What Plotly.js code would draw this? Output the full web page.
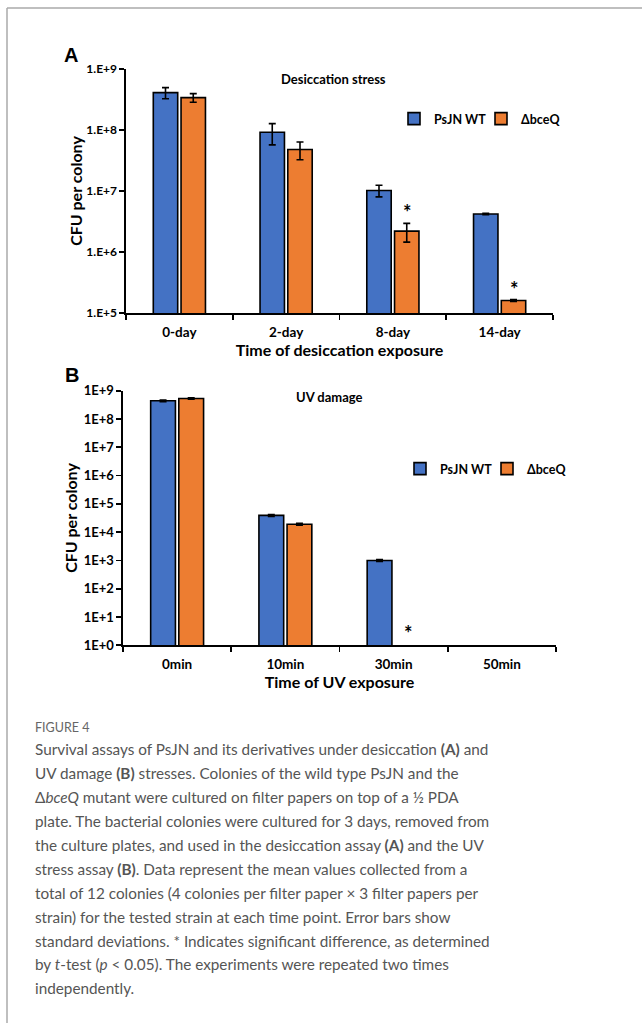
<!DOCTYPE html>
<html>
<head>
<meta charset="utf-8">
<script src="https://cdn.plot.ly/plotly-3.0.1.min.js"></script>
<style>html,body{margin:0;padding:0;background:#fff;}#chart{width:642px;height:1023px;}</style>
</head>
<body>
<div id="chart"></div>
<script>
// ---- Data ----
const seriesNames = ['PsJN WT', 'ΔbceQ'];

// Panel A: desiccation stress
const catsA = ['0-day', '2-day', '8-day', '14-day'];
const wtA = [4.1e8, 9.2e7, 1.02e7, 4.2e6];
const wtAErr = [0.85e8, 3.5e7, 2.2e6, 1.0e5];
const dA = [3.4e8, 4.8e7, 2.2e6, 1.6e5];
const dAErr = [0.55e8, 1.55e7, 7.5e5, 6e3];
const sigA = [false, false, true, true];
const yTicksA = [1e5, 1e6, 1e7, 1e8, 1e9];
const yTickTextA = ['1.E+5', '1.E+6', '1.E+7', '1.E+8', '1.E+9'];

// Panel B: UV damage
const catsB = ['0min', '10min', '30min', '50min'];
const wtB = [4.4e8, 3.9e4, 1.0e3, null];
const wtBErr = [3e7, 3e3, 80, 0];
const dB = [5.3e8, 1.9e4, null, null];
const dBErr = [3e7, 1.5e3, 0, 0];
const sigB = [false, false, true, false];
const yTicksB = [1, 10, 100, 1e3, 1e4, 1e5, 1e6, 1e7, 1e8, 1e9];
const yTickTextB = ['1E+0', '1E+1', '1E+2', '1E+3', '1E+4', '1E+5', '1E+6', '1E+7', '1E+8', '1E+9'];

const captionHead = 'FIGURE 4';
const captionLines = [
  'Survival assays of PsJN and its derivatives under desiccation <b>(A)</b> and',
  'UV damage <b>(B)</b> stresses. Colonies of the wild type PsJN and the',
  'Δ<i>bceQ</i> mutant were cultured on filter papers on top of a ½ PDA',
  'plate. The bacterial colonies were cultured for 3 days, removed from',
  'the culture plates, and used in the desiccation assay <b>(A)</b> and the UV',
  'stress assay <b>(B)</b>. Data represent the mean values collected from a',
  'total of 12 colonies (4 colonies per filter paper × 3 filter papers per',
  'strain) for the tested strain at each time point. Error bars show',
  'standard deviations. * Indicates significant difference, as determined',
  'by <i>t</i>-test (<i>p</i> &lt; 0.05). The experiments were repeated two times',
  'independently.'
];

// ---- Styling ----
const W = 642, H = 1023;
const px = v => v / W;
const py = v => 1 - v / H;
const FONT = 'Lato, Carlito, Calibri, sans-serif';
const BLUE = '#4472C4', ORANGE = '#ED7D31';
const barLine = {color: '#000', width: 1.6};

function bar(x, y, err, name, color, xa, ya, leg) {
  return {
    type: 'bar', x: x, y: y, name: name,
    marker: {color: color, line: barLine},
    error_y: {type: 'data', array: err, visible: true, color: '#000', thickness: 1.6, width: 3.5},
    xaxis: xa, yaxis: ya, legend: leg, showlegend: true
  };
}

const traces = [
  bar(catsA, wtA, wtAErr, seriesNames[0], BLUE, 'x', 'y', 'legend'),
  bar(catsA, dA, dAErr, seriesNames[1], ORANGE, 'x', 'y', 'legend'),
  bar(catsB, wtB, wtBErr, seriesNames[0], BLUE, 'x2', 'y2', 'legend2'),
  bar(catsB, dB, dBErr, seriesNames[1], ORANGE, 'x2', 'y2', 'legend2')
];

const xTickFont = {family: FONT, size: 13.5, color: '#000', weight: 'bold'};
const titleFont = {family: FONT, size: 16, color: '#000', weight: 'bold'};

function xAxis(domain, anchor, title, tstand) {
  return {
    domain: domain, anchor: anchor, type: 'category',
    showline: true, linecolor: '#000', linewidth: 1.6,
    ticks: 'outside', tickson: 'boundaries', ticklen: 5, tickwidth: 1.6, tickcolor: '#000',
    ticklabelstandoff: 6,
    tickfont: xTickFont, showgrid: false, zeroline: false, fixedrange: true,
    title: {text: title, font: titleFont, standoff: tstand}
  };
}
function yAxis(domain, anchor, range, tv, tt, tsize, tstand) {
  return {
    domain: domain, anchor: anchor, type: 'log', range: range,
    tickvals: tv, ticktext: tt,
    showline: true, linecolor: '#000', linewidth: 1.6,
    ticks: 'outside', ticklen: 5, tickwidth: 1.6, tickcolor: '#000',
    tickfont: {family: FONT, size: tsize, color: '#000', weight: 'bold'},
    showgrid: false, zeroline: false, fixedrange: true,
    title: {text: 'CFU per colony', font: {family: FONT, size: 16, color: '#000', weight: 'bold'}, standoff: tstand}
  };
}

const annotations = [];
function addText(x, y, text, font, xanchor) {
  annotations.push({xref: 'paper', yref: 'paper', x: px(x), y: py(y), text: text, showarrow: false,
    xanchor: xanchor || 'center', yanchor: 'middle', font: font});
}
addText(71, 55, 'A', {family: 'Liberation Sans, Arial, sans-serif', size: 20, color: '#000', weight: 'bold'});
addText(72, 375, 'B', {family: 'Liberation Sans, Arial, sans-serif', size: 20, color: '#000', weight: 'bold'});
addText(333, 79, 'Desiccation stress', {family: FONT, size: 13, color: '#000', weight: 'bold'});
addText(329, 397, 'UV damage', {family: FONT, size: 13, color: '#000', weight: 'bold'});

// significance asterisks, positioned via the data
catsA.forEach((c, i) => {
  if (sigA[i]) annotations.push({xref: 'x', yref: 'y', x: c, y: Math.log10(dA[i] + dAErr[i]),
    text: '*', showarrow: false, xshift: 15, yshift: -3, yanchor: 'bottom',
    font: {family: FONT, size: 20, color: '#000', weight: 'bold'}});
});
catsB.forEach((c, i) => {
  if (sigB[i]) annotations.push({xref: 'x2', yref: 'y2', x: c, y: Math.log10(dB[i] || 1),
    text: '*', showarrow: false, xshift: 15, yshift: -2, yanchor: 'bottom',
    font: {family: FONT, size: 20, color: '#000', weight: 'bold'}});
});

// caption
const CAP = 'Lato, sans-serif';
addText(33, 727, captionHead, {family: CAP, size: 12.5, color: '#666'}, 'left');
captionLines.forEach((t, i) => {
  addText(33, 749.3 + i * 23.9, t, {family: CAP, size: 15.3, color: '#555'}, 'left');
});

const legFont = {family: FONT, size: 12.5, color: '#000', weight: 'bold'};
const layout = {
  width: W, height: H,
  margin: {l: 0, r: 0, t: 0, b: 0},
  paper_bgcolor: '#fff', plot_bgcolor: 'rgba(0,0,0,0)',
  barmode: 'group', bargap: 0.48, bargroupgap: 0.12,
  xaxis: xAxis([px(126), px(553)], 'y', 'Time of desiccation exposure', 2),
  yaxis: yAxis([py(313), py(69)], 'x', [5, 9], yTicksA, yTickTextA, 12, 0),
  xaxis2: xAxis([px(123), px(556)], 'y2', 'Time of UV exposure', 4),
  yaxis2: yAxis([py(645.3), py(390.7)], 'x2', [0, 9], yTicksB, yTickTextB, 13, 2),
  legend: {orientation: 'h', x: px(394), y: py(119), xanchor: 'left', yanchor: 'middle',
    font: legFont, bgcolor: 'rgba(0,0,0,0)', itemwidth: 30, entrywidth: 42, entrywidthmode: 'pixels'},
  legend2: {orientation: 'h', x: px(400), y: py(469), xanchor: 'left', yanchor: 'middle',
    font: legFont, bgcolor: 'rgba(0,0,0,0)', itemwidth: 30, entrywidth: 42, entrywidthmode: 'pixels'},
  annotations: annotations,
  shapes: [
    {type: 'line', xref: 'paper', yref: 'paper', x0: px(7), x1: px(7), y0: py(8), y1: 0, line: {color: '#aaa', width: 1.5}},
    {type: 'line', xref: 'paper', yref: 'paper', x0: px(7), x1: 1, y0: py(8), y1: py(8), line: {color: '#aaa', width: 1.5}}
  ],
  showlegend: true
};

Plotly.newPlot('chart', traces, layout, {displayModeBar: false, staticPlot: true});
</script>
</body>
</html>
